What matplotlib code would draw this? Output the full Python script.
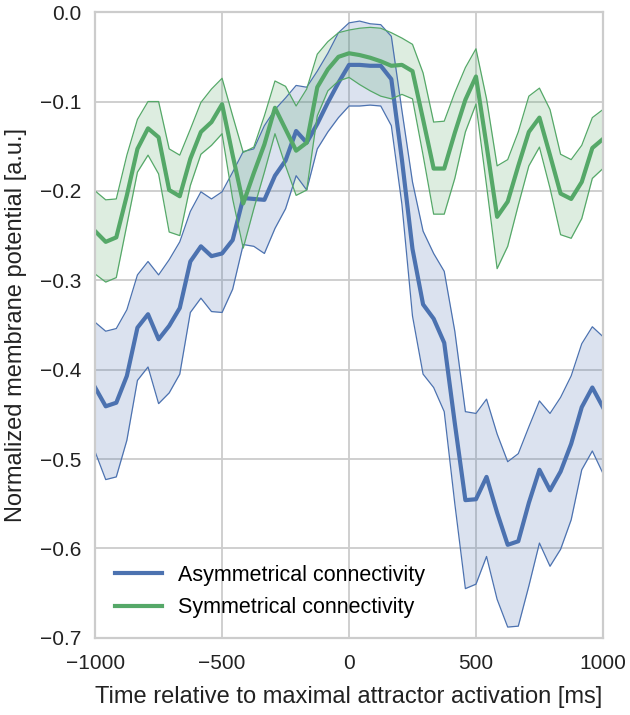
import matplotlib
matplotlib.use('Agg')
import matplotlib.pyplot as plt
import numpy as np

# time bins (ms) relative to maximal attractor activation
time_ms = np.linspace(-1000, 1000, 49)

asym_mean = [-0.420, -0.441, -0.437, -0.407, -0.353, -0.338, -0.366, -0.351, -0.331, -0.279, -0.262, -0.273, -0.270,
             -0.255, -0.208, -0.209, -0.210, -0.183, -0.166, -0.133, -0.146, -0.125, -0.101, -0.079, -0.059,
             -0.059, -0.060, -0.060, -0.075, -0.165, -0.265, -0.327, -0.343, -0.370, -0.460, -0.546, -0.545,
             -0.520, -0.560, -0.596, -0.592, -0.549, -0.512, -0.535, -0.514, -0.483, -0.442, -0.420, -0.442]
asym_upper = [-0.347, -0.357, -0.354, -0.333, -0.294, -0.279, -0.294, -0.277, -0.257, -0.223, -0.201, -0.209, -0.201,
              -0.179, -0.156, -0.153, -0.127, -0.109, -0.096, -0.082, -0.084, -0.066, -0.046, -0.023, -0.012,
              -0.010, -0.013, -0.014, -0.027, -0.110, -0.190, -0.245, -0.270, -0.290, -0.357, -0.447, -0.449,
              -0.433, -0.472, -0.503, -0.494, -0.464, -0.435, -0.449, -0.431, -0.407, -0.371, -0.352, -0.363]
asym_lower = [-0.492, -0.523, -0.520, -0.479, -0.412, -0.397, -0.438, -0.426, -0.405, -0.336, -0.320, -0.335, -0.336,
              -0.310, -0.260, -0.262, -0.270, -0.242, -0.220, -0.183, -0.199, -0.153, -0.134, -0.118, -0.105,
              -0.105, -0.104, -0.105, -0.127, -0.215, -0.340, -0.405, -0.420, -0.447, -0.550, -0.645, -0.640,
              -0.609, -0.657, -0.688, -0.687, -0.642, -0.594, -0.620, -0.601, -0.568, -0.512, -0.491, -0.516]

sym_mean = [-0.245, -0.257, -0.252, -0.205, -0.153, -0.130, -0.140, -0.199, -0.206, -0.164, -0.134, -0.123, -0.103,
            -0.160, -0.214, -0.180, -0.148, -0.107, -0.131, -0.155, -0.146, -0.084, -0.064, -0.050, -0.046,
            -0.048, -0.051, -0.055, -0.060, -0.059, -0.066, -0.120, -0.175, -0.175, -0.135, -0.098, -0.072,
            -0.149, -0.229, -0.212, -0.172, -0.134, -0.118, -0.160, -0.203, -0.209, -0.190, -0.152, -0.142]
sym_upper = [-0.200, -0.210, -0.209, -0.160, -0.120, -0.100, -0.100, -0.153, -0.160, -0.131, -0.101, -0.086, -0.074,
             -0.116, -0.157, -0.151, -0.116, -0.077, -0.083, -0.105, -0.086, -0.047, -0.033, -0.023, -0.020,
             -0.018, -0.017, -0.018, -0.023, -0.029, -0.036, -0.068, -0.123, -0.122, -0.090, -0.062, -0.041,
             -0.097, -0.172, -0.165, -0.134, -0.094, -0.085, -0.109, -0.159, -0.165, -0.149, -0.118, -0.109]
sym_lower = [-0.293, -0.302, -0.297, -0.238, -0.179, -0.160, -0.181, -0.246, -0.250, -0.194, -0.159, -0.149, -0.136,
             -0.209, -0.264, -0.220, -0.179, -0.136, -0.172, -0.205, -0.199, -0.116, -0.088, -0.077, -0.073,
             -0.081, -0.088, -0.094, -0.097, -0.092, -0.097, -0.160, -0.226, -0.226, -0.186, -0.134, -0.103,
             -0.194, -0.287, -0.262, -0.216, -0.172, -0.151, -0.197, -0.249, -0.253, -0.231, -0.186, -0.175]

series = [
    ('Asymmetrical connectivity', asym_mean, asym_lower, asym_upper, '#4C72B0'),
    ('Symmetrical connectivity', sym_mean, sym_lower, sym_upper, '#55A868'),
]

y_ticks = [0.0, -0.1, -0.2, -0.3, -0.4, -0.5, -0.6, -0.7]
x_ticks = [-1000, -500, 0, 500, 1000]

plt.rcParams['font.family'] = ['Liberation Sans', 'DejaVu Sans']


def minus_fmt(v, pos, fmt):
    s = fmt % v
    if s.startswith('-'):
        s = '\u2212' + s[1:]
    return '0.0' if s == '\u22120.0' else s


fig = plt.figure(figsize=(6.3, 7.15), dpi=100)
ax = fig.add_axes([0.151, 0.108, 0.806, 0.875])

for label, mean, lower, upper, color in series:
    ax.fill_between(time_ms, lower, upper, color=color, alpha=0.2, linewidth=0)
    ax.plot(time_ms, lower, color=color, linewidth=0.9)
    ax.plot(time_ms, upper, color=color, linewidth=0.9)
    ax.plot(time_ms, mean, color=color, linewidth=3, label=label)

ax.set_xlim(-1000, 1000)
ax.set_ylim(-0.7, 0.0)
ax.set_xticks(x_ticks)
ax.set_yticks(y_ticks)
ax.yaxis.set_major_formatter(matplotlib.ticker.FuncFormatter(lambda v, p: minus_fmt(v, p, '%.1f')))
ax.xaxis.set_major_formatter(matplotlib.ticker.FuncFormatter(lambda v, p: minus_fmt(v, p, '%d')))

ax.grid(True, color='#cccccc', linewidth=1.3)
ax.set_axisbelow(True)
for sp in ax.spines.values():
    sp.set_color('#cccccc')
    sp.set_linewidth(1.6)
ax.tick_params(axis='both', length=0, labelsize=15, colors='#222222')
ax.tick_params(axis='x', pad=12)
ax.tick_params(axis='y', pad=10)

ax.set_xlabel('Time relative to maximal attractor activation [ms]', fontsize=17, labelpad=9, color='#222222')
ax.set_ylabel('Normalized membrane potential [a.u.]', fontsize=17, labelpad=9, color='#222222')

ax.legend(loc='lower left', frameon=False, fontsize=15.5, handlelength=2.2, handletextpad=0.75,
          borderaxespad=0.5, labelspacing=0.55)

fig.savefig('out.png', dpi=100)
